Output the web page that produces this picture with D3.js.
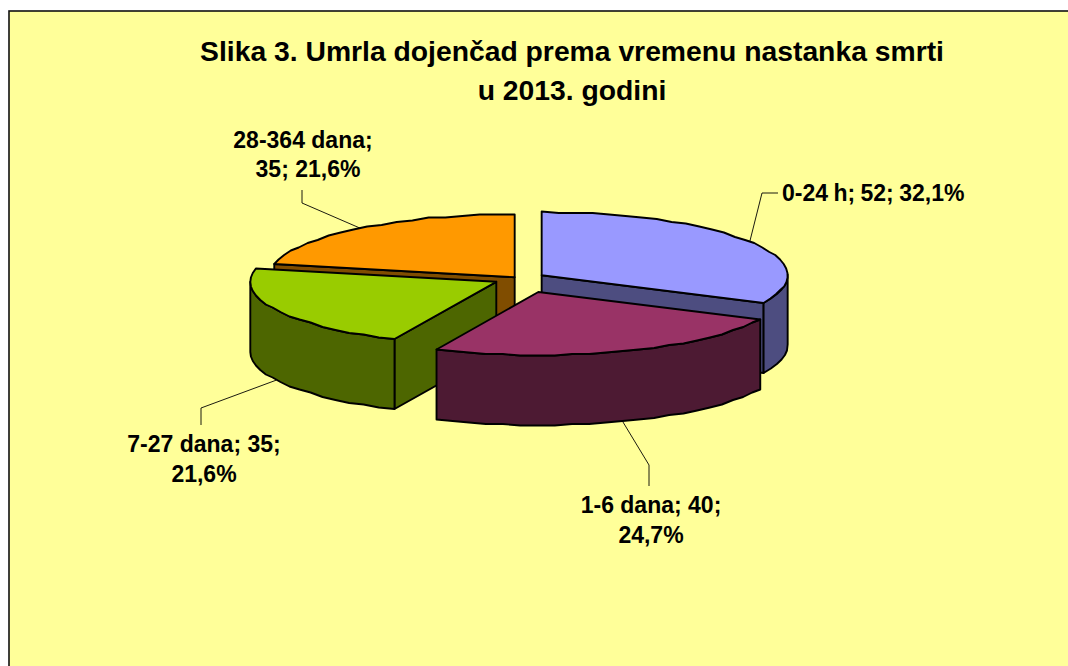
<!DOCTYPE html>
<html>
<head>
<meta charset="utf-8">
<script src="https://cdn.jsdelivr.net/npm/d3@7"></script>
<style>
  html, body { margin: 0; padding: 0; background: #fff; overflow: hidden; }
  text { font-family: "Liberation Sans", Arial, sans-serif; font-weight: bold; fill: #000; }
</style>
</head>
<body>
<div id="chart"></div>
<script>
// Slika 3 - exploded 3D pie, d3.pie gives the angles, the ellipse is done by hand

const titleLines = ["Slika 3. Umrla dojenčad prema vremenu nastanka smrti", "u 2013. godini"];
const categories = ["0-24 h", "1-6 dana", "7-27 dana", "28-364 dana"];
const values = [52, 40, 35, 35];
// how many label tokens go on the first line
const labelBreaks = [3, 2, 2, 1];
// each slice is pulled out by its own amount
const explode = [1, 2.1, 1, 0.3];
const topColors = ["#9999ff", "#993366", "#99cc00", "#ff9900"];
const sideColors = ["#4d4d80", "#4d1a33", "#4d6600", "#804d00"];

var width = 1068;
var height = 666;

var svg = d3.select("#chart").append("svg")
    .attr("width", width)
    .attr("height", height)
    .style("display", "block");

svg.append("rect")
    .attr("x", 9)
    .attr("y", 11)
    .attr("width", width)
    .attr("height", height)
    .attr("fill", "#ffff99")
    .attr("stroke", "#111")
    .attr("stroke-width", 1.6);

// pie geometry
var cx = 519.6, cy = 278.8;
var rx = 246, ry = 63;
var depth = 70;
var pull = 0.106;

var slices = d3.pie().sort(null).startAngle(0).endAngle(2 * Math.PI)(values);
var fp = d3.format(".1%");
var total = d3.sum(values);

var line = d3.line().curve(d3.curveLinearClosed);

function apex(i) {
  var mid = (slices[i].startAngle + slices[i].endAngle) / 2;
  return [cx + Math.sin(mid) * rx * pull * explode[i],
          cy - Math.cos(mid) * ry * pull * explode[i]];
}

function rim(c, a, drop) {
  // y snapped a bit, the original pie is a low res polygon and looks wobbly
  var y = Math.round((c[1] - Math.cos(a) * ry) / 1.5) * 1.5;
  return [c[0] + Math.sin(a) * rx, y + drop];
}

function arcPoints(c, a0, a1, drop) {
  var n = Math.max(1, Math.round((a1 - a0) / (4 * Math.PI / 180)));
  return d3.range(n + 1).map(function(k) { return rim(c, a0 + (a1 - a0) * k / n, drop); });
}

var pie = svg.append("g")
    .attr("stroke", "#000")
    .attr("stroke-width", 1.9)
    .attr("stroke-linejoin", "round");

function radialWall(c, a, fill) {
  var p = rim(c, a, 0);
  pie.append("path")
    .attr("fill", fill)
    .attr("d", line([c, p, [p[0], p[1] + depth], [c[0], c[1] + depth]]));
}

function drawSlice(i) {
  var s = slices[i];
  var c = apex(i);
  var a0 = s.startAngle, a1 = s.endAngle;

  // inner walls, only when they face the viewer
  if (Math.sin(a0) < -0.01) radialWall(c, a0, sideColors[i]);
  if (Math.sin(a1) > 0.01) radialWall(c, a1, sideColors[i]);

  // outer wall, front half of the ellipse only
  var w0 = Math.max(a0, Math.PI / 2), w1 = Math.min(a1, 3 * Math.PI / 2);
  if (w1 > w0) {
    var wall = arcPoints(c, w0, w1, 0).concat(arcPoints(c, w0, w1, depth).reverse());
    pie.append("path")
      .attr("fill", sideColors[i])
      .attr("d", line(wall));
  }

  pie.append("path")
    .attr("fill", topColors[i])
    .attr("d", line([c].concat(arcPoints(c, a0, a1, 0))));
}

[3, 0, 2, 1].forEach(drawSlice);

// title
svg.append("g").selectAll("text")
    .data(titleLines)
    .enter().append("text")
    .attr("x", 572)
    .attr("y", function(d, i) { return 61 + i * 38.5; })
    .attr("text-anchor", "middle")
    .attr("font-size", "28.3px")
    .text(function(d) { return d; });

// labels with leader lines
var labelPos = [
  { x: [782], y: 201, anchor: "start", ws: -1, elbow: [[762, 193], [778, 193]] },
  { x: [651, 651], y: 513, anchor: "middle", ws: 0, elbow: [[649, 465], [649, 486]] },
  { x: [204, 204], y: 452, anchor: "middle", ws: 0, elbow: [[201, 408], [201, 425]] },
  { x: [303, 308], y: 147.5, anchor: "middle", ws: 0, elbow: [[302, 203], [302, 190]] }
];

categories.forEach(function(name, i) {
  var s = slices[i];
  var mid = (s.startAngle + s.endAngle) / 2;
  var c = apex(i);
  var front = Math.cos(mid) < 0;
  var start = [c[0] + Math.sin(mid) * rx, c[1] - Math.cos(mid) * ry + (front ? depth : 0)];

  svg.append("path")
    .attr("fill", "none")
    .attr("stroke", "#000")
    .attr("stroke-width", 0.9)
    .attr("d", d3.line()([start].concat(labelPos[i].elbow)));

  var tokens = [name + ";", values[i] + ";", fp(values[i] / total).replace(".", ",")];
  var lines = [tokens.slice(0, labelBreaks[i]).join(" "), tokens.slice(labelBreaks[i]).join(" ")];
  lines.filter(function(d) { return d; }).forEach(function(t, k) {
    svg.append("text")
      .attr("x", labelPos[i].x[k])
      .attr("y", labelPos[i].y + k * 29.5)
      .attr("text-anchor", labelPos[i].anchor)
      .attr("font-size", "23px")
      .attr("word-spacing", labelPos[i].ws + "px")
      .text(t);
  });
});
</script>
</body>
</html>
